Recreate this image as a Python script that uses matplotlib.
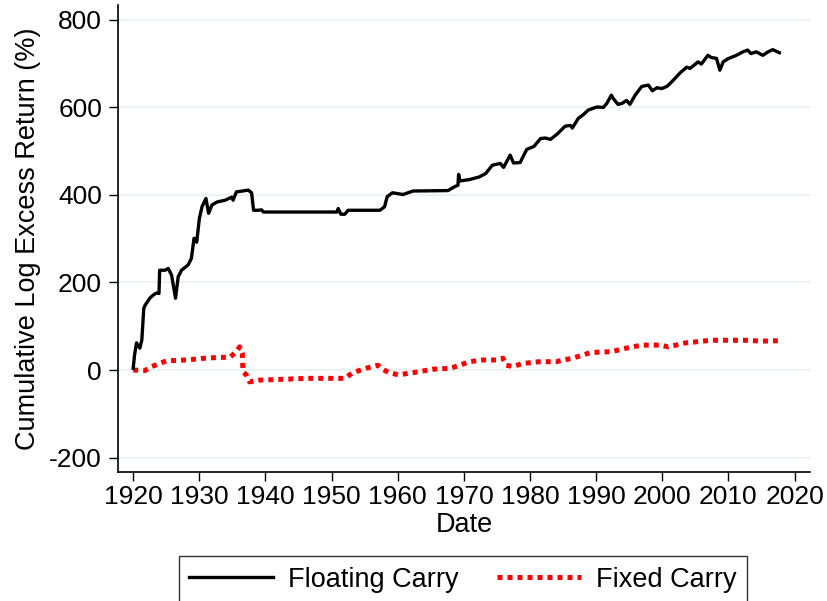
import matplotlib
matplotlib.use("Agg")
import matplotlib.pyplot as plt
from matplotlib.lines import Line2D

float_year = [1920.0, 1920.2, 1920.5, 1921.0, 1921.3, 1921.6, 1921.8, 1922.5, 1923.0, 1923.5, 1923.9, 1924.0,
              1924.8, 1925.3, 1925.8, 1926.4, 1926.8, 1927.3, 1928.3, 1928.8, 1929.2, 1929.6, 1930.0,
              1930.4, 1931.0, 1931.4, 1931.9, 1932.7, 1933.9, 1934.9, 1935.1, 1935.6, 1937.4, 1937.9,
              1938.2, 1938.9, 1939.4, 1939.7, 1950.8, 1951.0, 1951.4, 1952.0, 1952.5, 1957.3, 1958.0,
              1958.4, 1959.2, 1960.8, 1962.3, 1967.6, 1968.6, 1969.1, 1969.2, 1969.4, 1970.8, 1972.3,
              1973.3, 1974.3, 1975.5, 1976.0, 1977.0, 1977.5, 1978.5, 1979.5, 1980.6, 1981.6, 1982.3,
              1983.1, 1984.1, 1985.3, 1986.1, 1986.4, 1987.3, 1988.1, 1988.8, 1990.1, 1991.1, 1991.6,
              1992.3, 1992.6, 1993.3, 1993.9, 1994.6, 1995.1, 1995.9, 1996.9, 1997.9, 1998.5, 1999.2,
              1999.9, 2000.7, 2001.4, 2002.7, 2003.7, 2004.2, 2005.4, 2005.9, 2006.9, 2007.4, 2008.2,
              2008.7, 2009.2, 2009.9, 2011.2, 2012.2, 2012.9, 2013.4, 2014.2, 2015.2, 2016.0, 2016.7,
              2017.7]
float_val = [4, 34, 62, 50, 68, 141, 148, 164, 171, 176, 175, 228,
             228, 232, 217, 164, 213, 228, 240, 255, 301, 292, 346,
             373, 392, 358, 377, 384, 388, 395, 388, 407, 411, 405,
             365, 365, 366, 361, 361, 369, 356, 356, 365, 365, 373,
             396, 405, 401, 409, 410, 419, 422, 447, 432, 435, 441,
             449, 468, 472, 463, 491, 473, 474, 504, 511, 529, 530,
             527, 539, 557, 559, 553, 575, 584, 594, 601, 600, 609,
             628, 620, 607, 609, 616, 607, 628, 648, 651, 638, 645,
             643, 648, 658, 679, 692, 689, 704, 699, 719, 714, 712,
             685, 704, 711, 719, 727, 731, 723, 727, 719, 727, 732,
             725]

fixed_year = [1920.0, 1921.8, 1922.8, 1924.0, 1925.0, 1928.0, 1930.8, 1933.1, 1934.6, 1935.6, 1936.1,
              1936.5, 1936.6, 1937.1, 1937.6, 1939.1, 1943.1, 1946.2, 1952.0, 1953.2, 1955.2, 1957.0,
              1957.7, 1958.7, 1960.1, 1962.3, 1965.4, 1967.9, 1969.4, 1970.8, 1972.8, 1974.9, 1975.9,
              1976.4, 1977.4, 1978.9, 1981.4, 1983.9, 1986.4, 1989.2, 1992.4, 1994.2, 1996.9, 1999.7,
              2000.9, 2003.5, 2007.4, 2012.5, 2015.0, 2017.7]
fixed_val = [0, -1, 8, 15, 21, 23, 27, 29, 29, 42, 53,
             38, -4, -11, -27, -23, -21, -19, -19, -6, 4, 11,
             2, -6, -11, -6, 2, 4, 11, 19, 23, 23, 27,
             11, 8, 15, 19, 19, 27, 40, 42, 49, 57, 57,
             53, 62, 68, 68, 66, 67]

yticks = [-200, 0, 200, 400, 600, 800]
xticks = list(range(1920, 2021, 10))

plt.rcParams['font.family'] = ['Liberation Sans', 'DejaVu Sans']
FS_TICK = 19
FS = 19.5

fig = plt.figure(figsize=(8.28, 6.01), dpi=100)
ax = fig.add_axes([0.1425, 0.2146, 0.978 - 0.1425, 0.9917 - 0.2146])

for t in yticks:
    ax.axhline(t, color='#EAF2F3', lw=1.6, zorder=0)

ax.plot(float_year, float_val, color='black', lw=2.4, solid_joinstyle='round', zorder=3)
ax.plot(fixed_year, fixed_val, color='#FF0000', lw=3.6, linestyle=(0, (1, 1.0)),
        dash_capstyle='butt', zorder=2)

ax.set_xlim(1917.7, 2022.3)
ax.set_ylim(-233, 834)
ax.set_xticks(xticks)
ax.set_yticks(yticks)
ax.set_xticklabels([str(x) for x in xticks])
ax.set_yticklabels([str(y) for y in yticks])
ax.tick_params(axis='x', direction='out', length=6.5, width=1.0, labelsize=FS_TICK, pad=3)
ax.tick_params(axis='y', direction='out', length=6.5, width=1.0, labelsize=FS_TICK, pad=5)
ax.spines['top'].set_visible(False)
ax.spines['right'].set_visible(False)
for s in ['left', 'bottom']:
    ax.spines[s].set_linewidth(1.2)

ax.set_xlabel('Date', fontsize=FS, labelpad=2)
ax.set_ylabel('Cumulative Log Excess Return (%)', fontsize=FS, labelpad=6)

handles = [Line2D([0], [0], color='black', lw=2.4),
           Line2D([0], [0], color='#FF0000', lw=3.6, linestyle=(0, (1, 1.0)), dash_capstyle='butt')]
leg = fig.legend(handles, ['Floating Carry', 'Fixed Carry'], loc='upper center',
                 bbox_to_anchor=(0.559, 1 - 556 / 601), ncol=2, fontsize=FS, frameon=True,
                 fancybox=False, edgecolor='black', handlelength=3.1, columnspacing=1.4,
                 borderpad=0.4, handletextpad=0.55, borderaxespad=0)
leg.get_frame().set_linewidth(1.0)

fig.savefig('out.png', dpi=100)
